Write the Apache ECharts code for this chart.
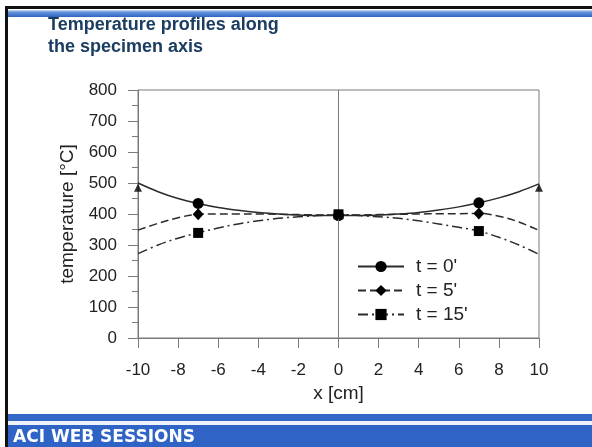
<!DOCTYPE html>
<html>
<head>
<meta charset="utf-8">
<script src="https://cdn.jsdelivr.net/npm/echarts@6/dist/echarts.min.js"></script>
<style>
  html, body { margin: 0; padding: 0; background: #fff; }
  #chart { width: 592px; height: 447px; }
</style>
</head>
<body>
<div id="chart"></div>
<script>
// Position along the specimen axis [cm]
const xPositions = [-10, -9, -8, -7, -6, -5, -4, -3, -2, -1, 0, 1, 2, 3, 4, 5, 6, 7, 8, 9, 10];
// Temperature profiles [°C] at t = 0', 5', 15'
const temp0 = [500, 472, 450, 434, 421, 412, 405, 400, 397, 395, 395, 395, 397, 400, 405, 413, 423, 436, 452, 472, 497];
const temp5 = [348, 370, 388, 399, 400, 400, 400, 399, 398, 397, 397, 397, 398, 399, 400, 401, 401, 402, 393, 374, 347];
const temp15 = [272, 300, 322, 339, 355, 368, 378, 386, 391, 395, 399, 395, 391, 386, 378, 368, 357, 345, 325, 300, 270];
// Positions that carry a marker on each profile
const markerPositions = [-7, 0, 7];
// Boundary temperature at the specimen ends
const boundaryX = [-10, 10];
const boundaryT = [485, 485];

const seriesNames = ["t = 0'", "t = 5'", "t = 15'"];
const xTicks = [-10, -8, -6, -4, -2, 0, 2, 4, 6, 8, 10];
const yTicks = [0, 100, 200, 300, 400, 500, 600, 700, 800];

const ink = '#2b2b2b';
const axisGrey = '#7a7a7a';
const textFont = '"Liberation Sans", Arial, sans-serif';

function profileData(values) {
  return xPositions.map((x, i) => {
    const item = { value: [x, values[i]] };
    if (markerPositions.indexOf(x) < 0) item.symbol = 'none';
    return item;
  });
}

const chart = echarts.init(document.getElementById('chart'), null, { renderer: 'canvas' });

const option = {
  backgroundColor: '#ffffff',
  animation: false,
  graphic: [
    // slide frame
    { type: 'rect', shape: { x: 5, y: 6, width: 587, height: 3 }, style: { fill: '#111' }, z: 10 },
    { type: 'rect', shape: { x: 5, y: 6, width: 3, height: 441 }, style: { fill: '#111' }, z: 10 },
    {
      type: 'rect', shape: { x: 8, y: 10, width: 584, height: 7 },
      style: {
        fill: new echarts.graphic.LinearGradient(0, 0, 0, 1, [
          { offset: 0, color: '#c9dcf3' }, { offset: 0.35, color: '#5f8fd8' }, { offset: 1, color: '#2f63c2' }
        ])
      }
    },
    { type: 'rect', shape: { x: 8, y: 414, width: 584, height: 7 }, style: { fill: '#3468c6' } },
    { type: 'rect', shape: { x: 8, y: 421, width: 584, height: 4 }, style: { fill: '#eef3fb' } },
    { type: 'rect', shape: { x: 8, y: 425, width: 584, height: 22 }, style: { fill: '#2f64c6' } },
    {
      type: 'text', left: 13, top: 429,
      style: { text: 'ACI WEB SESSIONS', fill: '#ffffff', font: 'bold 17px "DejaVu Sans", sans-serif' }
    },
    // slide title
    {
      type: 'text', left: 48, top: 14,
      style: {
        text: 'Temperature profiles along\nthe specimen axis',
        fill: '#1c3d62', font: 'bold 18px ' + textFont, lineHeight: 22
      }
    }
  ],
  grid: {
    left: 138, top: 90, right: 53, bottom: 109,
    show: true, borderColor: axisGrey, borderWidth: 1
  },
  legend: {
    data: seriesNames,
    orient: 'vertical',
    left: 352, top: 252,
    itemWidth: 46, itemHeight: 14, itemGap: 5,
    textStyle: { color: '#222', fontSize: 19, fontFamily: textFont, padding: [0, 0, 0, 7] }
  },
  xAxis: {
    type: 'value', min: -10, max: 10, interval: 2,
    name: 'x [cm]', nameLocation: 'middle', nameGap: 42,
    nameTextStyle: { color: '#222', fontSize: 19, fontFamily: textFont },
    axisLine: { onZero: false, lineStyle: { color: axisGrey, width: 1 } },
    axisTick: { show: true, inside: false, length: 10, lineStyle: { color: axisGrey } },
    axisLabel: {
      color: '#222', fontSize: 17, margin: 24, fontFamily: textFont,
      formatter: v => (xTicks.indexOf(v) >= 0 ? String(v) : '')
    },
    splitLine: { show: false }
  },
  yAxis: {
    type: 'value', min: 0, max: 800, interval: 100,
    name: 'temperature [°C]', nameLocation: 'middle', nameGap: 60,
    nameTextStyle: { color: '#222', fontSize: 19, fontFamily: textFont },
    axisLine: { show: true, onZero: false, lineStyle: { color: axisGrey, width: 1 } },
    axisTick: { show: true, inside: false, length: 10, lineStyle: { color: axisGrey } },
    minorTick: { show: true, splitNumber: 2, length: 6, lineStyle: { color: axisGrey } },
    axisLabel: {
      color: '#222', fontSize: 17, margin: 21, fontFamily: textFont,
      formatter: v => (yTicks.indexOf(v) >= 0 ? String(v) : '')
    },
    splitLine: { show: false }
  },
  series: [
    {
      name: seriesNames[0], type: 'line', smooth: 0.35,
      data: profileData(temp0),
      symbol: 'circle', symbolSize: 11, showAllSymbol: true,
      lineStyle: { color: ink, width: 1.5, type: 'solid' },
      itemStyle: { color: '#000' },
      markLine: {
        silent: true, symbol: 'none', label: { show: false },
        lineStyle: { color: axisGrey, width: 1, type: 'solid' },
        data: [{ xAxis: 0 }]
      },
      z: 3
    },
    {
      name: seriesNames[1], type: 'line', smooth: 0.35,
      data: profileData(temp5),
      symbol: 'diamond', symbolSize: [11, 12], showAllSymbol: true,
      lineStyle: { color: ink, width: 1.5, type: [8, 4] },
      itemStyle: { color: '#000' },
      z: 4
    },
    {
      name: seriesNames[2], type: 'line', smooth: 0.35,
      data: profileData(temp15),
      symbol: 'rect', symbolSize: 10, showAllSymbol: true,
      lineStyle: { color: ink, width: 1.5, type: [10, 4, 2, 4] },
      itemStyle: { color: '#000' },
      z: 5
    },
    {
      name: 'boundary', type: 'scatter',
      data: boundaryX.map((x, i) => [x, boundaryT[i]]),
      symbol: 'triangle', symbolSize: 8,
      itemStyle: { color: '#000' },
      z: 6
    }
  ]
};

chart.setOption(option);
</script>
</body>
</html>
